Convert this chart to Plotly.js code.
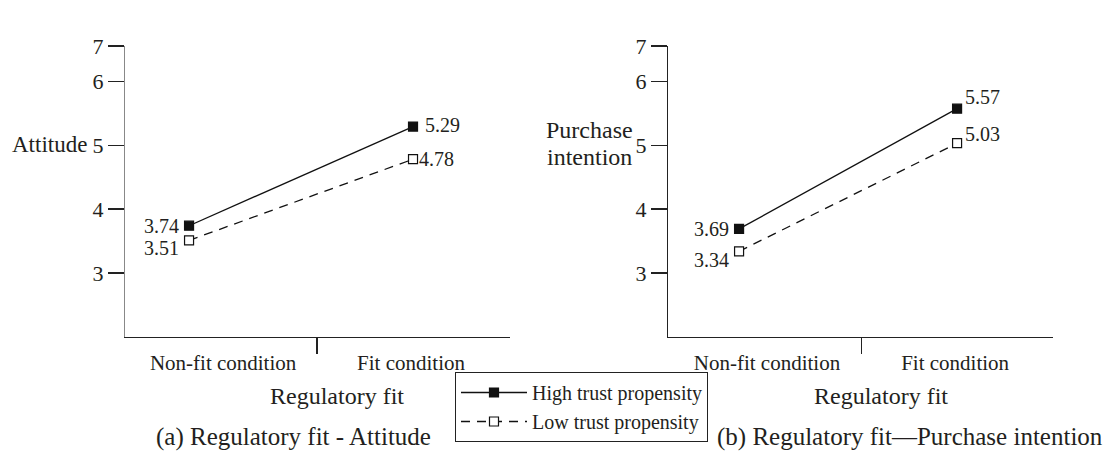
<!DOCTYPE html>
<html>
<head>
<meta charset="utf-8">
<script src="https://cdn.plot.ly/plotly-3.0.1.min.js"></script>
<style>html,body{margin:0;padding:0;background:#fff;}#chart{width:1114px;height:451px;}</style>
</head>
<body>
<div id="chart"></div>
<script>
// ---- data ----
const categories = ["Non-fit condition", "Fit condition"];
const seriesNames = ["High trust propensity", "Low trust propensity"];
const attitudeHigh = [3.74, 5.29];
const attitudeLow = [3.51, 4.78];
const purchaseHigh = [3.69, 5.57];
const purchaseLow = [3.34, 5.03];
const yTickVals = [3, 4, 5, 6, 6.55];
const yTickText = ["3", "4", "5", "6", "7"];
const yTitleA = "Attitude";
const yTitleB = ["Purchase", "intention"];
const xTitle = "Regulatory fit";
const captions = ["(a) Regulatory fit - Attitude", "(b) Regulatory fit\u2014Purchase intention"];

const FONT = "Liberation Serif, Times New Roman, serif";
const TXT = "#231f20";
const W = 1114, H = 451;
const px = v => v / W;
const py = v => (H - v) / H;

function trace(y, name, xa, ya, high, show) {
  return {
    x: categories, y: y, name: name, xaxis: xa, yaxis: ya,
    type: "scatter", mode: "lines+markers", showlegend: show, legendgroup: name,
    line: {color: "#111", width: 1.3, dash: high ? "solid" : "9px,7px"},
    marker: {symbol: "square", size: 9, color: high ? "#111" : "#fff",
             line: {color: "#111", width: 1.2}}
  };
}

const data = [
  trace(attitudeHigh, seriesNames[0], "x", "y", true, true),
  trace(attitudeLow, seriesNames[1], "x", "y", false, true),
  trace(purchaseHigh, seriesNames[0], "x2", "y2", true, false),
  trace(purchaseLow, seriesNames[1], "x2", "y2", false, false)
];

function xaxis(domain, range, labelPos, tickPos, anchor) {
  return {
    domain: domain, anchor: anchor, type: "category", range: range,
    showline: true, linecolor: "#222", linewidth: 1.2,
    showgrid: false, zeroline: false,
    tickmode: "array", tickvals: labelPos, ticktext: categories, ticks: "",
    ticklabelstandoff: 7,
    tickfont: {family: FONT, size: 21, color: TXT},
    minor: {tickmode: "array", tickvals: [tickPos], ticks: "outside", ticklen: 16,
            tickcolor: "#222", tickwidth: 1.2, showgrid: false}
  };
}
function yaxis(lineColor, anchor) {
  return {
    domain: [py(337), py(46)], anchor: anchor, range: [2, 6.55],
    showline: true, linecolor: lineColor, linewidth: 1.2,
    showgrid: false, zeroline: false,
    tickmode: "array", tickvals: yTickVals, ticktext: yTickText,
    ticks: "outside", ticklen: 16, tickcolor: "#222", tickwidth: 1.2,
    tickfont: {family: FONT, size: 22, color: TXT}
  };
}

function lab(text, x, y, xa, ya, anchor, xs, ys) {
  return {text: text, x: x, y: y, xref: xa, yref: ya, showarrow: false,
          xanchor: anchor, yanchor: "middle", xshift: xs, yshift: ys,
          font: {family: FONT, size: 20, color: TXT}};
}
function pap(text, x, y, anchor, size) {
  return {text: text, x: px(x), y: py(y), xref: "paper", yref: "paper", showarrow: false,
          xanchor: anchor || "center", yanchor: "middle",
          font: {family: FONT, size: size || 24, color: TXT}};
}

const annotations = [
  lab(attitudeHigh[0].toFixed(2), 0, attitudeHigh[0], "x", "y", "right", -8, 0),
  lab(attitudeLow[0].toFixed(2), 0, attitudeLow[0], "x", "y", "right", -8, -8),
  lab(attitudeHigh[1].toFixed(2), 1, attitudeHigh[1], "x", "y", "left", 10, 2),
  lab(attitudeLow[1].toFixed(2), 1, attitudeLow[1], "x", "y", "left", 4, 0),
  lab(purchaseHigh[0].toFixed(2), 0, purchaseHigh[0], "x2", "y2", "right", -8, 0),
  lab(purchaseLow[0].toFixed(2), 0, purchaseLow[0], "x2", "y2", "right", -8, -9),
  lab(purchaseHigh[1].toFixed(2), 1, purchaseHigh[1], "x2", "y2", "left", 6, 12),
  lab(purchaseLow[1].toFixed(2), 1, purchaseLow[1], "x2", "y2", "left", 6, 9),
  {text: yTitleA, x: px(89), y: 5, xref: "paper", yref: "y", showarrow: false,
   xanchor: "right", yanchor: "middle", yshift: 1, font: {family: FONT, size: 23, color: TXT}},
  pap(yTitleB[0], 589, 130, "center", 24),
  pap(yTitleB[1], 589, 157, "center", 24),
  pap(xTitle, 337, 396),
  pap(xTitle, 881, 396),
  pap(captions[0], 293, 437, "center", 25),
  pap(captions[1], 910, 437, "center", 25)
];

const layout = {
  width: W, height: H,
  margin: {l: 0, r: 0, t: 0, b: 0},
  paper_bgcolor: "#fff", plot_bgcolor: "#fff",
  font: {family: FONT, size: 20, color: TXT},
  showlegend: true,
  legend: {x: px(455), y: py(372), xanchor: "left", yanchor: "top",
           bgcolor: "#fff", bordercolor: "#222", borderwidth: 1,
           font: {family: FONT, size: 20, color: TXT}, tracegroupgap: 0,
           itemwidth: 66},
  xaxis: xaxis([px(125), px(510)], [-0.286, 1.433], [0.152, 0.991], 0.571, "y"),
  yaxis: yaxis("#888", "x"),
  xaxis2: xaxis([px(668), px(1053)], [-0.326, 1.44], [0.128, 0.991], 0.560, "y2"),
  yaxis2: yaxis("#222", "x2"),
  annotations: annotations
};

Plotly.newPlot("chart", data, layout, {staticPlot: true, displayModeBar: false});
</script>
</body>
</html>
